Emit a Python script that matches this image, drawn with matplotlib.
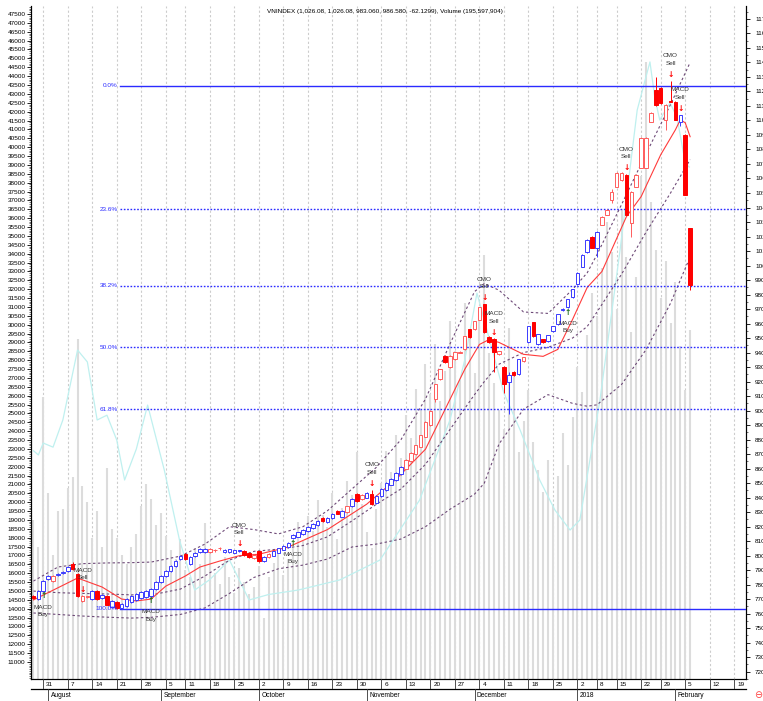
import matplotlib
matplotlib.use("Agg")
import matplotlib.pyplot as plt
import matplotlib.transforms as mtrans
import numpy as np
import pandas as pd

plt.rcParams['font.family'] = ['Liberation Sans Narrow', 'Liberation Sans', 'DejaVu Sans']

# trading days shown on the axis (data up to 6 Feb, then empty days)
closed = pd.to_datetime(['2017-09-04', '2018-01-01', '2018-01-11', '2018-01-24'])
days = pd.bdate_range('2017-07-27', '2018-02-21').difference(closed)

opens = [772.2, 770, 775.6, 783.9, 782.5, 786.6, 788, 789.4, 794.2, 787.4,
         768.8, 771.4, 770, 775.6, 770.8, 772.2, 764.6, 768.1, 763.6, 765.3,
         768.1, 769.4, 770.8, 771.5, 772.2, 777, 781.8, 785.9, 789.4, 792.8,
         797.7, 801.1, 794.2, 799.6, 802.5, 802.5, 802.5, 803.6, 805, 802.2,
         802.5, 802, 803, 803, 802, 798.5, 803, 796, 799, 800,
         802, 804, 806, 812, 813, 815, 817, 819, 821, 826,
         823, 826, 831, 827, 830, 834, 842.8, 839, 840, 842.4,
         836, 841, 845, 849, 852, 856, 860, 865, 870, 875,
         882, 890, 907.8, 921.6, 937.4, 929.8, 935.3, 940, 942.2, 956,
         956, 962.8, 973.2, 950.4, 949.1, 938.8, 929.8, 920, 926.4, 925,
         934, 947, 960.8, 945.6, 949.1, 947.7, 954.6, 959.4, 969.5, 971.1,
         978, 987, 999.3, 1009, 1020, 1012.4, 1028.2, 1035.1, 1045.4, 1054.4,
         1059.2, 1062.6, 1029.6, 1054.4, 1067.5, 1067.5, 1099.1, 1121, 1122.5, 1100.5,
         1113.4, 1112.9, 1099.1, 1090.2, 1026.08]
highs = [773, 776.5, 783.5, 786.6, 786.6, 788.4, 789.6, 793, 795.5, 788,
         772.8, 772, 776.2, 776.2, 773.4, 772.8, 769.4, 768.6, 767.2, 770.6,
         772.8, 774, 775.6, 776.3, 777.6, 782.4, 786.4, 789.9, 793.3, 796.8,
         800.3, 801.8, 799.6, 802.4, 805, 805.2, 805, 804.4, 805.8, 804.6,
         804.8, 804, 804, 803.6, 802.6, 801, 803.5, 799.6, 801.6, 803.5,
         805.5, 807.5, 809.5, 815, 816.5, 818.5, 820.5, 822.5, 824.5, 826.5,
         826.5, 829.5, 831.5, 831.5, 834.5, 839.5, 843.5, 842.5, 843.6, 845.5,
         841.5, 846.5, 850.5, 853.5, 857.5, 861.5, 866.5, 871.5, 876.5, 883.5,
         892.5, 900.5, 918.5, 929, 938, 938, 940.6, 941, 951.6, 956.6,
         962, 971.6, 973.5, 951.5, 949.8, 941.4, 930.5, 926.4, 927, 935.8,
         937.2, 958.6, 961.4, 953, 949.6, 952.3, 958.5, 966.8, 970.5, 977.2,
         984, 995.8, 1008.2, 1018.5, 1020.6, 1024, 1034.4, 1039, 1052.6, 1064.6,
         1064.6, 1063.2, 1051.5, 1063.2, 1088.7, 1088.7, 1106, 1130, 1123, 1111.4,
         1127.5, 1113.5, 1104, 1091, 1026.08]
lows = [770.3, 769.5, 775, 783.2, 782, 786, 787.5, 789, 790.3, 771.6,
        768.2, 771, 769.6, 769.6, 770.4, 765.8, 764, 763.3, 763.3, 764.8,
        767.6, 769, 770.3, 771, 771.8, 776.6, 781.4, 785.5, 789, 792.4,
        797.3, 797.2, 793.8, 799, 802, 802, 802, 802.8, 804.2, 801.8,
        802, 801.6, 802.6, 800, 798.5, 798, 795.5, 795.5, 798.6, 799.6,
        801.6, 803.6, 805.6, 811.5, 812.6, 814.6, 816.6, 818.6, 820.6, 823.5,
        822.6, 825.6, 828.5, 826.6, 829.6, 833.6, 837, 838.6, 839.6, 835,
        835.6, 840.6, 844.6, 848.6, 851.6, 855.6, 859.6, 864.6, 869.6, 874.6,
        881.6, 889.6, 906, 921, 932.6, 929.3, 934.8, 939.4, 941.7, 949.8,
        955.5, 962.3, 953.3, 946.5, 926.4, 938.2, 912, 897.5, 923.8, 924.5,
        933.6, 946.5, 950.6, 945, 946.5, 947.2, 954, 958.9, 968.9, 970.6,
        977.5, 986.5, 998.8, 1008.5, 1011.8, 1006.2, 1027.6, 1034.6, 1043, 1053.8,
        1058.6, 1034.5, 1020, 1053.8, 1067, 1067, 1098.6, 1110.2, 1111.6, 1093.6,
        1112.4, 1100, 1096, 1048.3, 983.06]
closes = [770.8, 775.6, 782.5, 786, 786, 787.6, 789, 792.2, 790.8, 772.2,
          772.2, 771.6, 775.6, 770, 772.9, 766.3, 768.8, 763.6, 766.7, 770,
          772.2, 773.4, 775, 775.6, 777, 781.8, 785.9, 789.4, 792.8, 796.3,
          799.7, 797.7, 799, 801.8, 804.5, 804.5, 804.5, 803.6, 805, 804,
          804.3, 803.6, 803.5, 800.5, 799, 800.5, 796.5, 799, 801, 803,
          805, 807, 809, 814.5, 816, 818, 820, 822, 824, 824,
          826, 829, 829, 831, 834, 839, 837.6, 842, 843, 835.5,
          841, 846, 850, 853, 857, 861, 866, 871, 876, 883,
          892, 900, 918, 928.4, 933.2, 937.4, 940.1, 940.2, 951.1, 950.4,
          961.5, 971.1, 953.9, 947, 940.1, 940.8, 918.1, 924.3, 924.3, 935.3,
          936.7, 958, 951.1, 952.5, 947, 951.8, 958, 966.3, 969.9, 976.6,
          983.5, 995.2, 1007.6, 1017.9, 1012.4, 1023.4, 1033.7, 1038.5, 1050.9, 1064,
          1064, 1035.1, 1050.9, 1062.6, 1088.1, 1088.1, 1105.3, 1110.8, 1112.2, 1110.8,
          1112.9, 1100.5, 1103.8, 1048.71, 986.58]
# candle colour as shown: b = blue, r = red
tone = list('rbbbrbbbrr' 'rrbrbrbrbb' 'bbbbbbbbbb' 'brbbbbrrrb' 'bbbrrrrbrb'
            'bbbbbbbbbr' 'bbrbrbrrbr' 'bbbbbbrrrr' 'rrrrrrrrrr' 'rrrrrrrbrb'
            'rbrbrbbbbb' 'bbbbrbrrrr' 'rrrrrrrrrr' 'rrbrr')

# gray volume bars, read against the left scale
volume = [19000, 17500, 25900, 20500, 17000, 19500, 19600, 20800, 21400, 29200,
          20900, 20000, 18000, 19500, 17500, 21900, 18500, 18000, 17000, 16500,
          17500, 18200, 19800, 21000, 20200, 18700, 19400, 18100, 17300, 16800,
          17900, 16200, 15800, 17400, 16500, 18800, 17200, 16000, 15400, 16900,
          15800, 14900, 16300, 15500, 14800, 15200, 16400, 13500, 15800, 16600,
          17100, 15900, 16800, 17500, 18900, 17800, 19200, 18400, 20100, 19300,
          18600, 20500, 17900, 19700, 21200, 20400, 22800, 19900, 18300, 17400,
          19600, 21100, 22900, 21700, 23800, 22500, 24900, 23600, 26400, 25200,
          27800, 26100, 28900, 25700, 27400, 30200, 28500, 26900, 31200, 29600,
          27300, 30800, 33900, 28400, 26700, 25200, 24100, 29800, 27200, 22800,
          24600, 26300, 23400, 21800, 20600, 22400, 19800, 21500, 23900, 22100,
          24800, 27600, 26200, 29400, 31800, 30500, 33200, 35800, 34100, 30900,
          36500, 33800, 29600, 32700, 38400, 44800, 36900, 34200, 31500, 33600,
          30100, 32400, 28800, 26300, 29700]

# Bollinger bands and fast average, read at sample days
band_idx = [0, 5, 10, 15, 20, 24, 30, 35, 40, 45, 50, 55, 60, 65, 70, 75, 80, 85, 90, 92, 95, 100, 105, 110, 113, 115, 120, 125, 130, 134]
upper = [782.5, 792.2, 794.5, 795, 795.2, 795.6, 799.7, 808, 820, 818, 815, 820, 831, 846, 861, 880, 908, 946, 982, 987.6, 983, 968, 967, 983.5, 995, 1007.6, 1042, 1077, 1111, 1140]
middle = [775.6, 774.5, 774, 773.6, 773, 772.9, 777, 786, 797, 803, 804.5, 807, 813, 824, 835.5, 846, 863, 887, 911, 920, 932, 940, 943.6, 950, 958, 968, 994, 1023, 1050, 1073]
lower = [760.5, 759.5, 758.4, 757.6, 757, 757.5, 759.5, 764, 774, 785, 791, 793.5, 797.7, 806, 808, 811.5, 820, 832, 842.4, 850, 877, 901, 911, 905, 903, 904, 918, 942, 974, 1006]
ma_idx = [0, 9, 14, 18, 21, 24, 27, 31, 34, 38, 42, 46, 52, 60, 68, 74, 80, 84, 88, 91, 93, 95, 100, 104, 107, 110, 113, 116, 121, 124, 128, 131, 132, 133, 134]
fast_ma = [769.5, 784.6, 778.4, 770.1, 768.8, 770.1, 779, 786, 792.2, 796.3, 800, 801, 806, 818, 835.5, 852.7, 873.4, 900.9, 928.4, 945.6, 949, 947, 938.8, 937.4, 942.2, 962.8, 984.9, 995.9, 1033.7, 1047.5, 1076.4, 1093.6, 1100.5, 1098.4, 1088.8]

# light cyan line on the left scale
cyan_idx = [0, 1, 2, 4, 6, 9, 11, 13, 15, 17, 18.6, 21, 23.3, 26.7, 29.8, 32.9, 35.9, 40, 44, 48, 54, 62.5, 70.7, 78.8, 85, 88, 90.5, 96, 99.3, 103.3, 106.4, 109.5, 111.5, 115.6, 119.7, 123.2, 125.8, 126.8, 127.8, 129.9, 131.3, 131.9, 133, 133.8]
cyan = [22900, 22660, 23330, 23100, 24630, 28570, 27900, 24630, 24900, 23500, 21250, 23000, 25470, 21810, 17870, 15050, 15620, 16740, 14490, 14800, 15050, 15620, 16740, 20120, 24630, 28000, 31780, 26150, 24070, 21250, 19560, 18430, 19000, 25760, 34200, 42090, 44800, 42770, 41530, 42490, 41700, 40800, 39100, 38880]

sig_idx = [2, 10, 24, 42, 53, 69, 92, 94, 109, 121, 130, 132]
sig_name = ['MACD', 'MACD', 'MACD', 'CMO', 'MACD', 'CMO', 'CMO', 'MACD', 'MACD', 'CMO', 'CMO', 'MACD']
sig_side = ['Buy', 'Sell', 'Buy', 'Sell', 'Buy', 'Sell', 'Sell', 'Sell', 'Buy', 'Sell', 'Sell', 'Sell']

# retracement drawn between the swing low (22 Aug) and the January high
fib_low, fib_high, fib_start = 763.3, 1123.9, 17.6
fib_levels = [0.0, 0.236, 0.382, 0.5, 0.618, 1.0]
fib_labels = ['0.0%', '23.6%', '38.2%', '50.0%', '61.8%', '100.0%']

title = 'VNINDEX (1,026.08, 1,026.08, 983.060, 986.580, -62.1299), Volume (195,597,904)'

BLUE = '#3a3aff'
RED = '#ff0000'
PINK = '#ff5c5c'
FIB = '#2b2bff'

fig = plt.figure(figsize=(7.63, 7.01), dpi=100)
ax = fig.add_axes([31 / 763, 1 - 679 / 701, 715 / 763, 673 / 701])
ax2 = ax.twinx()

n = len(closes)
x = np.arange(n)
xmax = len(days) - 0.6
ax.set_xlim(-0.5, xmax)
ax.set_ylim(10040, 47950)
ax2.set_ylim(715.8, 1178.9)

# weekly dashed grid
week_first = pd.Series(np.arange(len(days)), index=days).groupby(days.to_period('W')).first()
for i in week_first.values:
    if i > 0:
        ax.axvline(i, color='#cccccc', lw=0.8, ls=(0, (2, 2)), zorder=0)

# volume bars
ax.vlines(x, 10040, volume, color='#dcdcdc', lw=1.5, zorder=1)
ax.plot(cyan_idx, cyan, color='#bff0ef', lw=0.9, zorder=2)

# bands
dash = (0, (2.2, 2.2))
ax2.plot(band_idx, upper, color='#6e4a78', lw=0.8, ls=dash)
ax2.plot(band_idx, middle, color='#6e4a78', lw=0.8, ls=dash)
ax2.plot(band_idx, lower, color='#6e4a78', lw=0.8, ls=dash)
ax2.plot(ma_idx, fast_ma, color='#ff3b3b', lw=0.8)

# fibonacci retracement
for lev, lab in zip(fib_levels, fib_labels):
    p = fib_high - lev * (fib_high - fib_low)
    ls = '-' if lev in (0.0, 1.0) else (0, (1.2, 1.2))
    ax2.plot([fib_start, xmax], [p, p], color=FIB, lw=1.0, ls=ls, zorder=3)
    ax2.text(fib_start - 0.4, p, lab, color=FIB, fontsize=4.6, ha='right', va='center', zorder=6)

# candles: filled when the close is under the open
for i in range(n):
    o, h, l, c = opens[i], highs[i], lows[i], closes[i]
    if tone[i] == 'b':
        col, face = BLUE, 'white'
    elif c < o:
        col, face = RED, RED
    else:
        col, face = PINK, 'white'
    ax2.vlines(i, l, h, color=col, lw=0.7, zorder=4)
    ax2.bar(i, max(abs(c - o), 0.6), bottom=min(o, c), width=0.72, facecolor=face,
            edgecolor=col, lw=0.7, zorder=5)

# signal marks
px = 0.72  # points per pixel
for i, nm, sd in zip(sig_idx, sig_name, sig_side):
    if sd == 'Sell':
        ax2.annotate('\u2193', (i, highs[i]), xytext=(0, 6 * px), textcoords='offset points',
                     ha='center', va='center', color=RED, fontsize=5.5, fontweight='bold',
                     family='DejaVu Sans', zorder=7)
        ax2.annotate(nm + '\n' + sd, (i, highs[i]), xytext=(0, 21 * px), textcoords='offset points',
                     ha='center', va='center', color='#333333', fontsize=4.6, linespacing=1.6, zorder=7)
    else:
        ax2.annotate('\u2191', (i, lows[i]), xytext=(0, -4 * px), textcoords='offset points',
                     ha='center', va='center', color='#1a6b1a', fontsize=5.5, fontweight='bold',
                     family='DejaVu Sans', zorder=7)
        ax2.annotate(nm + '\n' + sd, (i, lows[i]), xytext=(0, -19 * px), textcoords='offset points',
                     ha='center', va='center', color='#333333', fontsize=4.6, linespacing=1.6, zorder=7)

# axes styling
for a in (ax, ax2):
    a.spines['top'].set_visible(False)
ax.set_xticks([])
ax.set_yticks(np.arange(11000, 47501, 500))
ax.set_yticks(np.arange(10100, 47901, 100), minor=True)
ax.tick_params(axis='y', labelsize=4.6, length=3, width=0.6, pad=1)
ax.tick_params(axis='y', which='minor', length=1.5, width=0.4)
ax2.set_yticks(np.arange(720, 1171, 10))
ax2.set_yticklabels([str(v) for v in range(720, 1171, 10)])
ax2.set_yticks(np.arange(715, 1176, 5), minor=True)
ax2.tick_params(axis='y', labelsize=4.6, length=3, width=0.6, pad=3.5)
ax2.tick_params(axis='y', which='minor', length=1.5, width=0.4)

# date axis: week ticks and month row
blend = mtrans.blended_transform_factory(ax.transData, fig.transFigure)
for i in week_first.values:
    if i == 0:
        continue
    fig.add_artist(plt.Line2D([i, i], [1 - 679 / 701, 1 - 688 / 701], transform=blend, color='#333333', lw=0.6))
    fig.text(i + 0.6, 1 - 684 / 701, str(days[i].day), transform=blend, fontsize=4.6, va='center', ha='left')
fig.add_artist(plt.Line2D([-0.5, xmax], [1 - 689 / 701, 1 - 689 / 701], transform=blend, color='black', lw=0.9))
month_first = pd.Series(np.arange(len(days)), index=days).groupby(days.to_period('M')).first()
for per, i in month_first.items():
    if i == 0:
        continue
    lab = str(per.year) if per.month == 1 else days[i].strftime('%B')
    fig.add_artist(plt.Line2D([i, i], [1 - 689 / 701, 0], transform=blend, color='#333333', lw=0.6))
    fig.text(i + 0.5, 1 - 695.5 / 701, lab, transform=blend, fontsize=4.8, va='center', ha='left')

fig.text(385 / 763, 1 - 12 / 701, title, fontsize=4.6, ha='center', va='center')
fig.text(754 / 763, 1 - 695 / 701, '\u2296', color='#ff4040', fontsize=7, ha='left', va='center', family='DejaVu Sans')

fig.savefig('out.png', dpi=100)
